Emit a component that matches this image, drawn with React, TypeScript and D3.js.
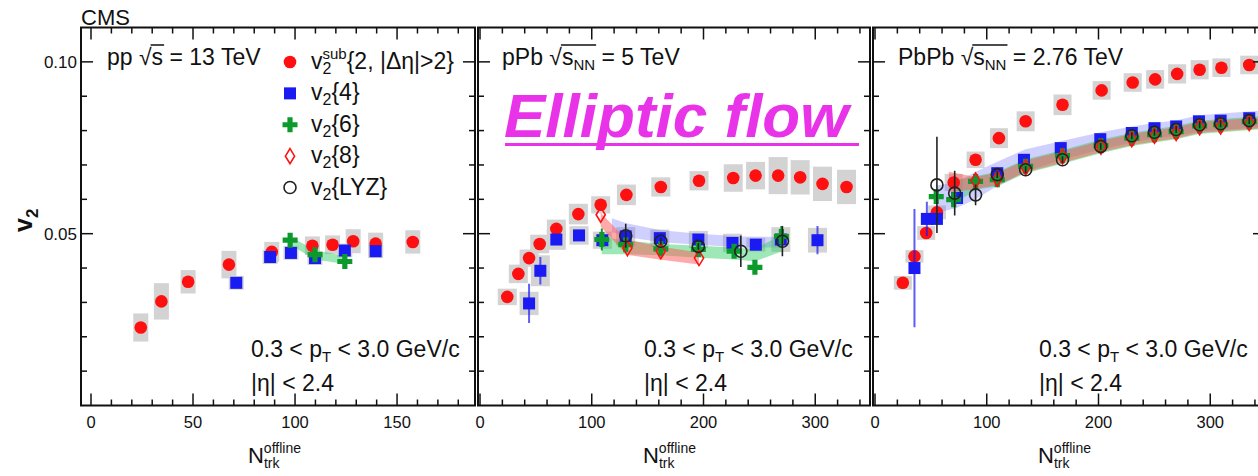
import { useLayoutEffect, useRef, useState } from "react";
import * as d3 from "d3";

type Row = number[];

// ---------- pp, sqrt(s) = 13 TeV ----------
// v2sub{2,|deta|>2}: [Ntrk, v2, syst]
const ppSub: Row[] = [
  [24.4, 0.0227, 0.0041],
  [34.5, 0.0303, 0.0053],
  [47.6, 0.036, 0.0034],
  [67.6, 0.041, 0.004],
  [88.6, 0.0447, 0.0029],
  [108.5, 0.0465, 0.0027],
  [118.4, 0.0468, 0.0027],
  [128.5, 0.0478, 0.0035],
  [139.5, 0.0471, 0.0032],
  [157.7, 0.0476, 0.0034],
];
// v2{4}: [Ntrk, v2, stat, syst]
const ppC4: Row[] = [
  [71.2, 0.0357, 0.0008, 0.002],
  [87.8, 0.0432, 0.0008, 0.002],
  [98.0, 0.0444, 0.0008, 0.002],
  [109.8, 0.0429, 0.0008, 0.002],
  [124.4, 0.0451, 0.0008, 0.002],
  [139.5, 0.0449, 0.0008, 0.002],
];
// v2{6}: [Ntrk, v2, stat]
const ppC6: Row[] = [
  [97.6, 0.0481, 0.0012],
  [109.8, 0.0439, 0.0012],
  [124.4, 0.0419, 0.0012],
];
// v2{6} syst band: [Ntrk, low, high]
const ppC6Band: Row[] = [
  [97.6, 0.0468, 0.0492],
  [109.8, 0.0425, 0.0452],
  [124.4, 0.0412, 0.0435],
];

// ---------- pPb, sqrt(sNN) = 5 TeV ----------
const pPbSub: Row[] = [
  [24.4, 0.0316, 0.0024],
  [34.3, 0.0383, 0.0027],
  [43.9, 0.0429, 0.0025],
  [53.4, 0.047, 0.0027],
  [68.3, 0.0514, 0.0027],
  [88.0, 0.0557, 0.003],
  [108.0, 0.0584, 0.0025],
  [131.0, 0.0613, 0.003],
  [161.8, 0.0636, 0.0028],
  [196.0, 0.0654, 0.0028],
  [226.6, 0.0662, 0.004],
  [246.6, 0.0669, 0.004],
  [266.8, 0.0669, 0.0054],
  [286.5, 0.0664, 0.005],
  [306.5, 0.0645, 0.005],
  [328.0, 0.0636, 0.005],
];
const pPbC4: Row[] = [
  [43.9, 0.0297, 0.0057, 0.0034],
  [54.0, 0.0392, 0.004, 0.0045],
  [68.3, 0.0483, 0.001, 0.003],
  [88.6, 0.0495, 0.0008, 0.0027],
  [109.5, 0.0481, 0.0008, 0.0025],
  [130.4, 0.0492, 0.0008, 0.0027],
  [160.9, 0.0487, 0.0008, 0.0025],
  [195.4, 0.0483, 0.0008, 0.0025],
  [225.9, 0.0473, 0.001, 0.0027],
  [246.8, 0.0468, 0.001, 0.002],
  [269.2, 0.0483, 0.0015, 0.0036],
  [302.0, 0.0481, 0.0041, 0.0036],
];
const pPbC6: Row[] = [
  [109.0, 0.0483, 0.0032],
  [130.4, 0.0468, 0.001],
  [161.8, 0.0456, 0.001],
  [195.4, 0.0454, 0.001],
  [227.4, 0.0449, 0.0012],
  [246.0, 0.0402, 0.001],
  [269.7, 0.0492, 0.003],
];
const pPbC6Band: Row[] = [
  [109.0, 0.044, 0.049],
  [131.0, 0.044, 0.048],
  [162.0, 0.0437, 0.047],
  [196.0, 0.043, 0.0465],
  [227.0, 0.0425, 0.046],
  [246.0, 0.042, 0.0455],
  [270.0, 0.0448, 0.0497],
];
const pPbC8: Row[] = [
  [108.0, 0.0555],
  [131.9, 0.0458],
  [161.8, 0.0449],
  [196.0, 0.0429],
];
const pPbC8Band: Row[] = [
  [108.0, 0.052, 0.0561],
  [131.0, 0.0439, 0.0483],
  [162.0, 0.0424, 0.0462],
  [196.0, 0.041, 0.0445],
];
const pPbLYZ: Row[] = [
  [130.4, 0.0494, 0.0035],
  [161.8, 0.0478, 0.001],
  [195.4, 0.0463, 0.001],
  [233.4, 0.0449, 0.0046],
  [270.6, 0.0478, 0.0044],
];
const pPbLYZBand: Row[] = [
  [118.0, 0.0505, 0.0545],
  [131.0, 0.049, 0.053],
  [162.0, 0.0475, 0.051],
  [196.0, 0.0468, 0.05],
  [234.0, 0.046, 0.0492],
  [270.0, 0.046, 0.049],
];

// ---------- PbPb, sqrt(sNN) = 2.76 TeV ----------
const PbPbSub: Row[] = [
  [24.9, 0.0357, 0.002],
  [35.3, 0.0434, 0.0018],
  [45.8, 0.0502, 0.002],
  [55.4, 0.0562, 0.002],
  [70.4, 0.0649, 0.0025],
  [90.0, 0.0715, 0.0024],
  [110.9, 0.0778, 0.0029],
  [134.8, 0.0827, 0.0029],
  [167.8, 0.0875, 0.003],
  [202.8, 0.0917, 0.0027],
  [230.6, 0.094, 0.0027],
  [250.7, 0.0949, 0.0027],
  [270.4, 0.0965, 0.0028],
  [290.5, 0.0977, 0.0028],
  [310.0, 0.0983, 0.0027],
  [334.9, 0.0991, 0.0027],
];
const PbPbC4: Row[] = [
  [35.3, 0.04, 0.0172, 0],
  [46.4, 0.0543, 0.005, 0],
  [55.4, 0.0543, 0.001, 0],
  [73.4, 0.0604, 0.001, 0],
  [109.4, 0.0676, 0.0008, 0],
  [133.3, 0.0715, 0.0008, 0],
  [166.2, 0.0749, 0.0008, 0],
  [201.6, 0.0775, 0.0008, 0],
  [229.8, 0.0793, 0.0008, 0],
  [250.1, 0.0807, 0.0008, 0],
  [269.5, 0.0812, 0.0008, 0],
  [289.9, 0.0827, 0.0008, 0],
  [309.3, 0.0829, 0.0008, 0],
  [334.9, 0.0836, 0.0008, 0],
];
const PbPbC4Band: Row[] = [
  [55.0, 0.056, 0.064],
  [73.0, 0.0575, 0.065],
  [90.0, 0.06, 0.068],
  [110.0, 0.064, 0.071],
  [134.0, 0.068, 0.0745],
  [167.0, 0.0715, 0.077],
  [202.0, 0.0745, 0.0795],
  [230.0, 0.0765, 0.0812],
  [250.0, 0.0778, 0.0822],
  [270.0, 0.0785, 0.083],
  [290.0, 0.0797, 0.0845],
  [310.0, 0.0802, 0.085],
  [345.0, 0.081, 0.0858],
];
const PbPbC6: Row[] = [
  [54.8, 0.0608, 0.002],
  [70.4, 0.0599, 0.002],
  [90.0, 0.0652, 0.001],
  [109.4, 0.0657, 0.001],
  [134.8, 0.0696, 0.0008],
  [167.8, 0.0727, 0.0008],
  [202.2, 0.0756, 0.0008],
  [229.8, 0.0778, 0.0008],
  [250.1, 0.0788, 0.0008],
  [269.5, 0.0797, 0.0008],
  [290.5, 0.0814, 0.0008],
  [309.3, 0.0817, 0.0008],
  [334.9, 0.0826, 0.0008],
];
const PbPbC6Band: Row[] = [
  [70.0, 0.0585, 0.0655],
  [90.0, 0.0628, 0.0668],
  [110.0, 0.0638, 0.068],
  [134.0, 0.0675, 0.0716],
  [167.0, 0.0703, 0.0743],
  [202.0, 0.0734, 0.0774],
  [230.0, 0.0755, 0.0794],
  [250.0, 0.0765, 0.0804],
  [270.0, 0.0775, 0.0814],
  [290.0, 0.079, 0.0829],
  [310.0, 0.0795, 0.0834],
  [345.0, 0.0804, 0.0842],
];
const PbPbC8: Row[] = [
  [90.0, 0.0655],
  [109.4, 0.066],
  [134.8, 0.0693],
  [167.8, 0.0725],
  [202.2, 0.0753],
  [229.8, 0.0775],
  [250.1, 0.0785],
  [269.5, 0.0793],
  [290.5, 0.081],
  [309.3, 0.0812],
  [334.9, 0.0822],
];
const PbPbC8Band: Row[] = [
  [66.0, 0.062, 0.068],
  [90.0, 0.063, 0.0665],
  [110.0, 0.0642, 0.0677],
  [134.0, 0.0678, 0.0712],
  [167.0, 0.0706, 0.0739],
  [202.0, 0.0737, 0.077],
  [230.0, 0.0758, 0.079],
  [250.0, 0.0768, 0.08],
  [270.0, 0.0778, 0.081],
  [290.0, 0.0793, 0.0825],
  [310.0, 0.0798, 0.083],
  [345.0, 0.0807, 0.0838],
];
const PbPbLYZ: Row[] = [
  [55.4, 0.0642, 0.014],
  [71.3, 0.0618, 0.0065],
  [90.0, 0.0613, 0.003],
  [109.4, 0.0672, 0.001],
  [134.8, 0.0686, 0.001],
  [167.8, 0.0715, 0.001],
  [202.0, 0.0754, 0.001],
  [229.8, 0.0785, 0.001],
  [250.1, 0.0795, 0.001],
  [269.5, 0.0803, 0.001],
  [290.5, 0.0817, 0.001],
  [309.3, 0.082, 0.001],
  [334.9, 0.0829, 0.001],
];

const yTickValues = [0.01, 0.02, 0.03, 0.04, 0.05, 0.06, 0.07, 0.08, 0.09, 0.1];
const yTickLabels = ["0.05", "0.10"];

const FONT = "'Liberation Sans', Arial, Helvetica, sans-serif";
const RED = "#ff1010";
const BLUE = "#1a1af2";
const GREEN = "#0d9a2c";
const GRAY = "#d3d3d3";
const BAND_BLUE = "rgba(110,110,255,0.32)";
const BAND_GREEN = "rgba(40,205,95,0.45)";
const BAND_PINK = "rgba(255,85,85,0.5)";

const Y_TOP = 27.5;
const Y_BOTTOM = 405.5;
const y = d3.scaleLinear().domain([0, 0.11]).range([Y_BOTTOM, Y_TOP]);

const CROSS = "M-2.6,-7.5h5.2v4.9h4.9v5.2h-4.9v4.9h-5.2v-4.9h-4.9v-5.2h4.9z";
const DIAMOND = "M0,-7.5L4.6,0L0,7.5L-4.6,0Z";

type Band = { rows: Row[]; fill: string };
type PanelDef = {
  id: string;
  left: number;
  right: number;
  domain: [number, number];
  minor: number;
  major: number;
  boxW: number;
  sub: Row[];
  c4: Row[];
  c6: Row[];
  c8: Row[];
  lyz: Row[];
  bands: Band[];
  header: { pre: string; sub: string; post: string };
  headerX: number;
  textX: number;
  titleX: number;
};

const panels: PanelDef[] = [
  {
    id: "pp",
    left: 81,
    right: 475,
    domain: [-4.9, 188.2],
    minor: 10,
    major: 50,
    boxW: 15,
    sub: ppSub,
    c4: ppC4,
    c6: ppC6,
    c8: [],
    lyz: [],
    bands: [{ rows: ppC6Band, fill: BAND_GREEN }],
    header: { pre: "pp ", sub: "", post: " = 13 TeV" },
    headerX: 107,
    textX: 251,
    titleX: 248,
  },
  {
    id: "pPb",
    left: 478,
    right: 870,
    domain: [-1.8, 349],
    minor: 20,
    major: 100,
    boxW: 19,
    sub: pPbSub,
    c4: pPbC4,
    c6: pPbC6,
    c8: pPbC8,
    lyz: pPbLYZ,
    bands: [
      { rows: pPbLYZBand, fill: BAND_BLUE },
      { rows: pPbC6Band, fill: BAND_GREEN },
      { rows: pPbC8Band, fill: BAND_PINK },
    ],
    header: { pre: "pPb ", sub: "NN", post: " = 5 TeV" },
    headerX: 502,
    textX: 644,
    titleX: 643,
  },
  {
    id: "PbPb",
    left: 873,
    right: 1265,
    domain: [-1.8, 349],
    minor: 20,
    major: 100,
    boxW: 18,
    sub: PbPbSub,
    c4: PbPbC4,
    c6: PbPbC6,
    c8: PbPbC8,
    lyz: PbPbLYZ,
    bands: [
      { rows: PbPbC4Band, fill: BAND_BLUE },
      { rows: PbPbC6Band, fill: BAND_GREEN },
      { rows: PbPbC8Band, fill: BAND_PINK },
    ],
    header: { pre: "PbPb ", sub: "NN", post: " = 2.76 TeV" },
    headerX: 898,
    textX: 1039,
    titleX: 1038,
  },
];

function Header({ x, yb, pre, sub, post }: { x: number; yb: number; pre: string; sub: string; post: string }) {
  const ref = useRef<SVGTextElement>(null);
  const [bar, setBar] = useState<number[] | null>(null);
  useLayoutEffect(() => {
    const t = ref.current;
    if (!t) return;
    const iRoot = pre.length;
    const iLast = pre.length + 1 + sub.length;
    const x0 = t.getEndPositionOfChar(iRoot).x;
    const x1 = t.getEndPositionOfChar(iLast).x;
    const ext = t.getExtentOfChar(iRoot);
    setBar([x0 - 1, x1 + 1, ext.y + 1.5]);
  }, [pre, sub]);
  return (
    <g>
      <text ref={ref} x={x} y={yb} fontSize={23} fontFamily={FONT} fill="#111">
        {pre}√s
        {sub ? (
          <>
            <tspan dy={5} fontSize={15}>
              {sub}
            </tspan>
            <tspan dy={-5}>{post}</tspan>
          </>
        ) : (
          post
        )}
      </text>
      {bar && <line x1={bar[0]} x2={bar[1]} y1={bar[2]} y2={bar[2]} stroke="#111" strokeWidth={1.5} />}
    </g>
  );
}

function Panel({ p, showY }: { p: PanelDef; showY: boolean }) {
  const x = d3.scaleLinear().domain(p.domain).range([p.left, p.right]);
  const xTicks = d3.range(Math.ceil(p.domain[0] / p.minor) * p.minor, p.domain[1], p.minor);
  const xMajor = xTicks.filter((t) => Math.abs(t % p.major) < 1e-9);
  const area = d3
    .area<Row>()
    .x((d) => x(d[0]))
    .y0((d) => y(d[1]))
    .y1((d) => y(d[2]));
  const hw = p.boxW / 2;

  return (
    <g>
      <clipPath id={`clip-${p.id}`}>
        <rect x={p.left} y={Y_TOP} width={p.right - p.left} height={Y_BOTTOM - Y_TOP} />
      </clipPath>
      <g clipPath={`url(#clip-${p.id})`}>
        {p.sub.map((d, i) => (
          <rect key={`sb${i}`} x={x(d[0]) - hw} y={y(d[1] + d[2])} width={p.boxW} height={y(d[1] - d[2]) - y(d[1] + d[2])} fill={GRAY} />
        ))}
        {p.c4
          .filter((d) => d[3] > 0)
          .map((d, i) => (
            <rect key={`cb${i}`} x={x(d[0]) - hw} y={y(d[1] + d[3])} width={p.boxW} height={y(d[1] - d[3]) - y(d[1] + d[3])} fill={GRAY} />
          ))}
        {p.bands.map((b, i) => (
          <path key={`band${i}`} d={area(b.rows) ?? ""} fill={b.fill} />
        ))}
        {p.sub.map((d, i) => (
          <circle key={`s${i}`} cx={x(d[0])} cy={y(d[1])} r={6.3} fill={RED} />
        ))}
        {p.c4.map((d, i) => (
          <g key={`c4${i}`}>
            <line x1={x(d[0])} x2={x(d[0])} y1={y(d[1] - d[2])} y2={y(d[1] + d[2])} stroke={BLUE} strokeOpacity={0.7} strokeWidth={2} />
            <rect x={x(d[0]) - 6} y={y(d[1]) - 6} width={12} height={12} fill={BLUE} />
          </g>
        ))}
        {p.c6.map((d, i) => (
          <g key={`c6${i}`}>
            <line x1={x(d[0])} x2={x(d[0])} y1={y(d[1] - d[2])} y2={y(d[1] + d[2])} stroke={GREEN} strokeWidth={2} />
            <path d={CROSS} transform={`translate(${x(d[0])},${y(d[1])})`} fill={GREEN} />
          </g>
        ))}
        {p.c8.map((d, i) => (
          <path key={`c8${i}`} d={DIAMOND} transform={`translate(${x(d[0])},${y(d[1])})`} fill="none" stroke={RED} strokeWidth={1.6} />
        ))}
        {p.lyz.map((d, i) => (
          <g key={`l${i}`}>
            <line x1={x(d[0])} x2={x(d[0])} y1={y(d[1] - d[2])} y2={y(d[1] + d[2])} stroke="#222" strokeWidth={1.6} />
            <circle cx={x(d[0])} cy={y(d[1])} r={6} fill="none" stroke="#222" strokeWidth={1.6} />
          </g>
        ))}
      </g>

      {/* frame and ticks */}
      <rect x={p.left} y={Y_TOP} width={p.right - p.left} height={Y_BOTTOM - Y_TOP} fill="none" stroke="#111" strokeWidth={2} />
      {xTicks.map((t) => {
        const len = xMajor.includes(t) ? 12 : 6;
        return (
          <g key={`xt${t}`} stroke="#111" strokeWidth={1.5}>
            <line x1={x(t)} x2={x(t)} y1={Y_BOTTOM} y2={Y_BOTTOM - len} />
            <line x1={x(t)} x2={x(t)} y1={Y_TOP} y2={Y_TOP + len} />
          </g>
        );
      })}
      {yTickValues.map((t) => {
        const len = Math.abs((t * 100) % 5) < 1e-6 ? 12 : 6;
        return (
          <g key={`yt${t}`} stroke="#111" strokeWidth={1.5}>
            <line x1={p.left} x2={p.left + len} y1={y(t)} y2={y(t)} />
            <line x1={p.right} x2={p.right - len} y1={y(t)} y2={y(t)} />
          </g>
        );
      })}
      {xMajor.map((t) => (
        <text key={`xl${t}`} x={x(t)} y={428} textAnchor="middle" fontSize={16.5} fontFamily={FONT} fill="#111">
          {t}
        </text>
      ))}
      {showY &&
        yTickLabels.map((s) => (
          <text key={`yl${s}`} x={77} y={y(+s) + 6} textAnchor="end" fontSize={17} fontFamily={FONT} fill="#111">
            {s}
          </text>
        ))}

      <Header x={p.headerX} yb={64.5} {...p.header} />
      <text x={p.textX} y={357} fontSize={23} fontFamily={FONT} fill="#111">
        0.3 &lt; p
        <tspan dy={5} fontSize={15}>
          T
        </tspan>
        <tspan dy={-5}> &lt; 3.0 GeV/c</tspan>
      </text>
      <text x={p.textX} y={390.5} fontSize={23} fontFamily={FONT} fill="#111">
        |η| &lt; 2.4
      </text>
      <text x={p.titleX} y={463} fontSize={22} fontFamily={FONT} fill="#111">
        N
        <tspan dy={5} fontSize={14}>
          trk
        </tspan>
        <tspan dx={-15.6} dy={-15} fontSize={14}>
          offline
        </tspan>
      </text>
    </g>
  );
}

const legendRows = [
  { kind: "sub", sup: "sub", rest: "{2, |Δη|>2}" },
  { kind: "c4", sup: "", rest: "{4}" },
  { kind: "c6", sup: "", rest: "{6}" },
  { kind: "c8", sup: "", rest: "{8}" },
  { kind: "lyz", sup: "", rest: "{LYZ}" },
];

function Legend() {
  const rowY = d3.scaleLinear().domain([0, 4]).range([62, 187.5]);
  return (
    <g>
      {legendRows.map((r, i) => {
        const cy = rowY(i);
        return (
          <g key={r.kind}>
            {r.kind === "sub" && <circle cx={290} cy={cy} r={6.3} fill={RED} />}
            {r.kind === "c4" && <rect x={284} y={cy - 6} width={12} height={12} fill={BLUE} />}
            {r.kind === "c6" && <path d={CROSS} transform={`translate(290,${cy})`} fill={GREEN} />}
            {r.kind === "c8" && <path d={DIAMOND} transform={`translate(290,${cy})`} fill="none" stroke={RED} strokeWidth={1.6} />}
            {r.kind === "lyz" && <circle cx={290} cy={cy} r={6} fill="none" stroke="#222" strokeWidth={1.6} />}
            <text x={311} y={cy + 7} fontSize={23} fontFamily={FONT} fill="#111">
              v
              <tspan dy={5} fontSize={16}>
                2
              </tspan>
              {r.sup ? (
                <>
                  <tspan dx={-8.9} dy={-15} fontSize={15}>
                    {r.sup}
                  </tspan>
                  <tspan dy={10}>{r.rest}</tspan>
                </>
              ) : (
                <tspan dy={-5}>{r.rest}</tspan>
              )}
            </text>
          </g>
        );
      })}
    </g>
  );
}

export default function App() {
  return (
    <svg width={1258} height={476} style={{ position: "absolute", left: 0, top: 0, background: "#fff" }}>
      <rect width={1258} height={476} fill="#fff" />
      {panels.map((p, i) => (
        <Panel key={p.id} p={p} showY={i === 0} />
      ))}
      <Legend />
      <text x={81} y={25} fontSize={22} fontFamily={FONT} fill="#111">
        CMS
      </text>
      <text transform="translate(32,232) rotate(-90)" fontSize={25} fontWeight="bold" fontFamily={FONT} fill="#111">
        v
        <tspan dy={6} fontSize={17}>
          2
        </tspan>
      </text>
      <text x={504} y={136.5} fontSize={62} fontWeight="bold" fontStyle="italic" fontFamily={FONT} fill="#e933e9">
        Elliptic flow
      </text>
      <line x1={505} x2={859} y1={144.5} y2={144.5} stroke="#e933e9" strokeWidth={3.2} />
    </svg>
  );
}
